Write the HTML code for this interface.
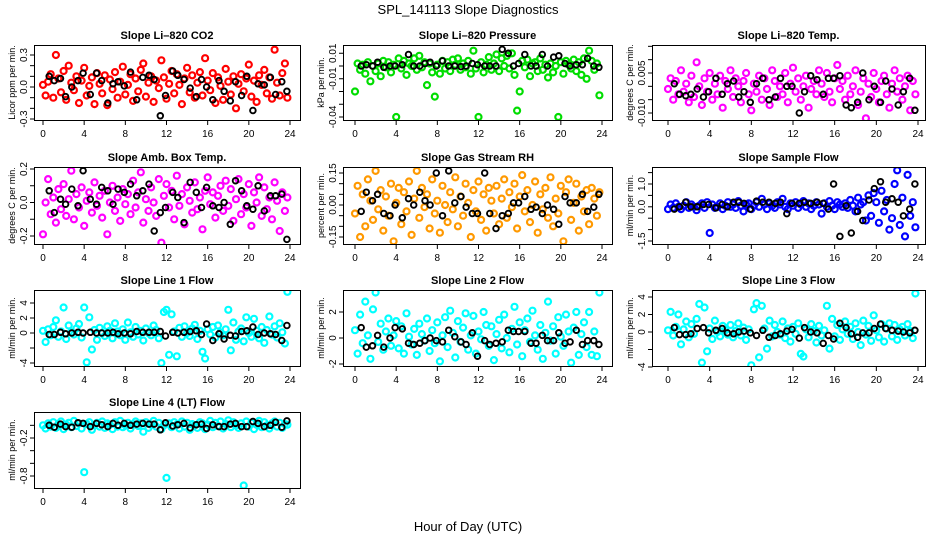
<!DOCTYPE html>
<html><head><meta charset="utf-8"><style>
html,body{margin:0;padding:0;background:#fff;}
svg{display:block;font-family:"Liberation Sans",sans-serif;}
</style></head><body>
<svg id="chart" width="936" height="540" viewBox="0 0 936 540" xmlns="http://www.w3.org/2000/svg">
<text x="468" y="14" text-anchor="middle" font-size="13">SPL_141113  Slope Diagnostics</text>
<text x="468" y="531" text-anchor="middle" font-size="13">Hour of Day (UTC)</text>
</svg>
<script>
const hoursColored = [0,0.25,0.5,0.75,1,1.25,1.5,1.75,2,2.25,2.5,2.75,3,3.25,3.5,3.75,4,4.25,4.5,4.75,5,5.25,5.5,5.75,6,6.25,6.5,6.75,7,7.25,7.5,7.75,8,8.25,8.5,8.75,9,9.25,9.5,9.75,10,10.25,10.5,10.75,11,11.25,11.5,11.75,12,12.25,12.5,12.75,13,13.25,13.5,13.75,14,14.25,14.5,14.75,15,15.25,15.5,15.75,16,16.25,16.5,16.75,17,17.25,17.5,17.75,18,18.25,18.5,18.75,19,19.25,19.5,19.75,20,20.25,20.5,20.75,21,21.25,21.5,21.75,22,22.25,22.5,22.75,23,23.25,23.5,23.75];
const hoursBlack = [0.6,1.1,1.7,2.2,2.8,3.4,3.9,4.6,5.2,5.7,6.3,6.8,7.3,7.9,8.5,9.1,9.7,10.3,10.8,11.4,11.9,12.6,13.1,13.7,14.3,14.9,15.4,15.9,16.5,17.1,17.6,18.2,18.7,19.3,19.8,20.4,20.9,21.5,22.1,22.6,23.2,23.7];
const xTicks = [0,4,8,12,16,20,24];

const co2Colored = [0.02,-0.08,0.05,0.12,-0.1,0.3,0.08,-0.05,0.15,-0.12,0.2,0.04,-0.03,0.1,-0.15,0.06,0.18,-0.08,0.01,0.09,-0.16,0.13,0.03,-0.06,0.11,-0.17,0.07,-0.02,0.14,-0.1,0.05,0.19,-0.07,0.02,0.12,-0.13,0.08,-0.04,0.16,0.22,-0.09,0.04,0.1,-0.14,0.06,-0.01,0.25,0.09,-0.11,0.03,0.15,-0.06,0.12,0.02,-0.16,0.08,0.18,-0.05,0.11,-0.1,0.04,0.14,-0.08,0.27,0.06,-0.03,0.13,-0.15,0.09,0.01,-0.12,0.17,0.05,-0.07,0.1,-0.2,0.03,0.12,-0.04,0.08,0.21,-0.09,0.06,-0.14,0.11,0.02,0.16,-0.06,0.09,-0.11,0.35,0.04,-0.08,0.13,0.22,-0.1];
const co2Black = [0.1,0.06,0.08,-0.09,0.0,0.06,0.13,-0.07,0.13,0.06,-0.15,0.03,0.05,0.01,0.14,-0.12,0.09,0.11,0.07,-0.27,-0.08,0.15,0.11,0.07,-0.01,-0.09,0.07,0.0,-0.12,0.06,-0.04,-0.13,0.05,-0.08,0.1,-0.22,0.03,0.02,0.09,-0.07,0.05,-0.04];

const pressureColored = [-0.02,0.002,-0.003,0.001,-0.006,0.003,-0.012,0.0,-0.004,0.002,-0.008,0.004,-0.001,0.003,-0.005,0.001,-0.04,0.006,-0.002,0.004,-0.007,0.002,0.0,0.006,-0.003,0.008,-0.001,0.003,-0.015,0.002,-0.005,-0.024,0.001,-0.006,0.004,-0.002,0.003,-0.004,0.005,0.001,0.006,-0.003,0.002,-0.001,0.004,-0.006,0.012,-0.002,-0.04,0.003,-0.005,0.001,0.007,-0.003,0.002,0.009,-0.004,0.006,0.0,0.008,-0.002,0.01,-0.007,-0.035,-0.02,0.004,-0.001,0.005,-0.008,0.002,0.003,-0.004,0.006,-0.003,0.001,-0.009,0.002,-0.005,0.0,-0.04,0.003,-0.006,0.004,0.001,-0.002,0.005,-0.004,0.003,-0.007,0.006,-0.01,0.012,0.004,-0.003,0.002,-0.023];
const pressureBlack = [0.0,0.001,0.0,0.003,-0.001,0.0,0.0,0.001,0.009,0.0,0.0,0.002,0.003,0.0,0.004,0.0,0.0,-0.0005,0.0,0.002,0.001,0.0,0.0,0.0,0.013,0.01,0.0,0.002,0.009,0.0,0.0,0.009,0.0,0.007,0.008,0.002,0.0,0.001,0.001,0.006,0.0,-0.001];

const tempMilliColored = [-1,3,-5,2,-3,6,-2,1,-6,4,-4,9,0,-7,3,-2,5,-5,1,-3,4,-8,2,-1,6,-4,3,0,-6,2,5,-3,-9,1,-2,4,-5,3,-1,-7,6,2,-4,0,-3,5,-6,1,7,-2,3,-5,0,4,-8,-1,2,-3,6,1,-4,5,-2,-6,3,8,-1,2,-5,4,-3,0,6,-7,-2,3,-12,1,-4,5,-1,-6,2,4,-3,-8,1,6,-2,3,-5,0,4,-9,2,-3];
const tempMilliBlack = [1,-3,-3.5,-3,-1,-4,-2,3,-3,1,2,-4,-2,-6,1,3,-5,-4,3,0,0,-10,-2,4,2.5,-3,3,3,4,-7,-8,-6,5,-5,0,-6,2,-1,-7,-2,3,-9];

const ambColored = [-0.19,0.0,0.14,-0.07,0.03,-0.12,0.08,-0.04,0.11,-0.08,0.02,0.19,-0.1,0.05,-0.03,0.09,-0.14,0.01,0.06,-0.06,0.12,-0.02,0.04,-0.09,0.07,-0.19,0.0,0.1,-0.05,0.03,-0.11,0.08,-0.01,0.05,-0.07,0.13,-0.03,0.06,0.18,-0.12,0.02,-0.05,0.09,0.0,-0.08,0.14,-0.24,0.04,0.11,-0.03,0.07,-0.1,0.16,-0.02,0.05,-0.13,0.09,0.01,-0.06,0.12,-0.04,0.03,-0.16,0.07,0.15,-0.01,0.06,-0.09,0.04,0.1,-0.05,0.13,-0.02,0.08,-0.11,0.02,0.14,-0.07,0.05,-0.03,0.11,-0.14,0.06,0.0,0.15,-0.08,0.09,-0.04,0.03,-0.1,0.12,0.01,-0.17,0.06,-0.05,0.03];
const ambBlack = [0.07,-0.06,0.02,-0.01,0.08,-0.02,0.19,0.02,-0.01,0.09,0.07,-0.01,0.08,0.06,0.11,0.04,0.07,0.11,-0.17,-0.06,-0.03,0.06,0.03,-0.12,0.12,0.06,-0.03,0.09,-0.02,-0.03,0.0,-0.13,0.13,0.07,-0.02,-0.04,0.1,-0.05,0.04,0.04,0.05,-0.22];

const rhColored = [-0.04,0.09,-0.15,0.05,-0.1,0.12,0.02,-0.07,0.16,-0.02,0.07,-0.12,0.04,-0.05,0.1,-0.17,0.01,0.08,-0.09,0.06,-0.03,0.11,-0.14,0.03,0.16,-0.06,0.08,-0.01,0.05,-0.11,0.12,-0.04,0.02,-0.13,0.09,0.0,-0.08,0.06,-0.02,0.13,-0.1,0.04,-0.05,0.1,0.01,-0.15,0.07,-0.03,0.11,-0.07,0.05,-0.12,0.08,0.02,-0.04,0.09,-0.09,0.03,0.12,-0.06,0.06,-0.01,0.1,-0.11,0.04,0.14,-0.03,0.07,-0.08,0.0,0.11,-0.13,0.05,-0.02,0.08,-0.06,0.13,-0.1,0.03,-0.04,0.09,-0.17,0.06,0.12,-0.07,0.01,0.1,-0.12,0.04,-0.03,0.07,-0.09,0.08,0.03,-0.05,0.06];
const rhBlack = [-0.03,0.06,0.02,0.05,-0.04,-0.05,0.0,-0.06,0.03,0.0,0.06,0.02,0.0,0.15,-0.05,0.16,0.01,0.04,-0.01,-0.04,-0.04,0.15,-0.04,-0.11,-0.05,-0.04,0.01,0.01,0.04,-0.02,-0.01,-0.04,0.0,-0.02,-0.09,0.04,0.01,0.01,0.05,-0.03,-0.01,0.05];

const sampleColored = [-0.1,0.1,-0.05,0.15,0.0,-0.1,0.05,0.2,-0.05,0.1,0.0,-0.15,0.05,0.15,-0.05,0.2,-1.15,0.1,-0.05,0.0,0.15,-0.1,0.05,0.2,0.0,0.1,-0.05,0.25,0.05,-0.2,0.1,0.15,-0.1,0.05,0.2,0.0,0.35,0.1,-0.1,0.15,0.05,-0.05,0.2,0.1,0.35,0.0,-0.1,0.15,0.05,0.2,-0.05,0.1,0.25,0.0,0.15,-0.1,0.05,0.2,0.1,-0.3,0.15,0.0,0.25,0.05,-0.1,0.2,0.1,0.0,0.15,-0.05,0.3,0.05,-0.2,0.4,0.1,0.2,-0.6,0.5,-0.4,0.6,0.2,-0.7,0.7,-0.2,0.3,-1.0,-0.5,1.0,1.6,-0.8,0.4,-1.3,1.4,-0.4,0.2,-0.9];
const sampleBlack = [-0.1,0.0,0.2,0.0,0.0,0.1,0.1,-0.05,0.1,0.0,0.2,0.2,0.15,-0.1,0.25,0.2,0.2,0.15,0.2,-0.3,0.15,0.15,0.2,0.15,0.2,0.15,-0.1,1.0,-1.3,0.05,-1.15,-0.2,-0.6,0.3,0.8,1.1,0.2,0.35,0.2,-0.4,-0.1,1.0];

const line1Colored = [0.3,-1.2,0.5,-0.3,0.8,1.7,-0.5,0.2,3.4,-0.8,1.0,0.1,-0.2,0.6,1.2,-0.6,3.4,-3.9,2.1,-2.2,0.4,-0.9,0.7,0.0,-0.4,0.9,0.3,-0.7,1.3,0.2,-0.3,0.5,-0.9,1.4,0.1,-0.5,0.8,-0.2,0.3,-1.0,0.6,0.0,-0.3,1.0,0.4,-0.7,-4.0,2.8,3.1,-2.9,2.5,0.2,-3.1,0.7,-0.5,0.9,0.0,-0.4,0.6,1.1,-0.8,0.3,-2.5,-3.4,0.5,-0.2,0.8,-0.6,1.0,0.1,-0.3,0.5,3.1,-2.3,1.4,-0.9,0.2,0.6,-1.1,2.1,0.0,-0.5,1.9,0.3,-0.7,0.8,-1.3,0.4,2.2,-0.2,0.9,-0.6,1.3,0.1,-1.4,5.5];
const line1Black = [-0.2,-0.2,0.1,-0.1,0.0,0.1,0.0,0.1,0.0,0.0,0.0,0.1,-0.1,0.0,-0.1,0.2,0.1,0.1,0.1,0.2,-0.4,0.1,0.0,0.1,0.2,0.3,-0.2,1.2,-1.0,-0.1,-0.8,-0.3,-0.4,0.2,0.3,0.8,-0.2,0.0,-0.1,-0.2,-1.0,1.0];

const line2Colored = [0.6,-1.2,1.8,-0.4,2.8,0.2,-1.6,2.2,3.5,-0.3,1.1,-0.9,0.5,1.5,-0.6,0.2,1.3,-0.8,0.9,-1.2,1.9,0.1,-0.5,0.7,-1.3,1.1,0.3,-0.2,1.5,-1.0,0.6,-0.4,1.2,-1.8,0.2,1.6,-0.7,2.1,0.4,-1.5,1.3,-0.3,0.8,1.9,-0.9,0.2,1.7,-1.2,0.5,-0.1,2.0,1.0,-0.6,0.9,-1.7,0.3,1.4,-0.8,1.8,0.0,-1.1,0.7,2.4,-0.5,1.2,-1.4,0.6,1.5,-0.3,2.1,0.2,-0.9,1.0,-1.6,0.4,2.8,-0.2,0.9,-1.2,1.6,0.1,-0.6,1.8,0.5,-1.9,0.8,2.0,-1.3,0.3,1.2,-0.7,2.0,-1.3,0.5,-1.4,3.5];
const line2Black = [0.8,-0.7,-0.6,0.2,-0.7,0.0,0.8,0.7,-0.4,-0.5,-0.4,-0.2,0.0,-0.2,-0.3,0.6,0.1,-0.3,-0.5,0.4,-1.4,-0.2,-0.5,-0.4,-0.3,0.6,0.5,0.5,0.5,-0.4,-0.4,0.2,-0.2,-0.2,0.4,-0.4,-0.3,0.6,-0.5,-0.2,-0.2,-0.5];

const line3Colored = [0.2,2.3,-0.4,0.6,2.0,-1.4,0.3,1.2,-0.6,0.9,-0.2,1.5,3.2,-3.5,2.8,-2.2,0.4,-0.8,1.3,0.0,-0.5,0.7,0.2,-0.3,0.8,-0.6,0.1,1.0,-0.4,0.5,-0.9,0.3,-3.8,2.6,3.3,-2.9,3.0,0.4,-1.9,1.3,-0.5,0.8,0.0,-0.3,1.2,-0.7,0.4,-1.1,0.6,-0.2,1.0,-2.5,-2.8,0.3,-0.6,0.9,0.1,-1.2,0.7,-0.4,0.2,3.0,-1.9,1.5,-0.5,0.8,-0.9,0.3,1.2,-0.2,0.6,-0.8,1.0,0.0,-1.5,1.3,-0.3,0.7,-1.0,1.9,0.2,-0.6,0.9,-1.1,0.4,1.0,-0.5,0.8,-0.9,0.3,0.6,-0.4,0.9,0.1,-0.7,4.4];
const line3Black = [0.5,-0.3,-0.3,-0.2,0.4,0.5,-0.1,0.2,0.4,-0.1,-0.2,0.0,0.1,-0.1,-0.4,0.2,-0.6,-0.4,-0.2,0.1,0.3,-0.7,0.5,0.0,-0.1,-1.3,-0.4,-0.8,1.0,0.5,-0.2,-0.6,-0.1,-0.1,0.4,0.9,0.4,0.2,0.1,0.0,-0.1,0.2];

const line4Colored = [0.0,-0.05,0.03,-0.02,0.05,-0.04,0.02,0.06,-0.06,0.01,0.04,-0.03,0.07,-0.01,0.03,-0.05,-0.74,0.02,0.05,-0.07,0.0,0.04,-0.02,0.06,-0.04,0.03,0.01,-0.06,0.05,-0.02,0.07,-0.03,0.0,0.04,-0.05,0.02,0.06,-0.01,0.03,-0.1,0.05,-0.04,0.01,0.07,-0.02,0.04,-0.06,0.0,-0.83,0.03,-0.03,0.05,0.01,-0.05,0.06,-0.02,0.04,-0.07,0.02,0.0,-0.04,0.05,0.03,-0.06,0.01,0.07,-0.03,0.04,-0.01,0.06,-0.05,0.02,0.08,-0.03,0.05,0.0,-0.04,0.03,-0.95,0.06,-0.02,0.04,-0.06,0.01,0.07,-0.03,0.05,0.0,-0.05,0.03,0.06,-0.02,0.04,-0.04,0.02,0.01];
const line4Black = [0.0,-0.03,0.02,-0.02,-0.03,0.04,0.03,-0.02,0.03,0.01,-0.02,0.03,0.0,0.03,0.0,0.02,0.03,0.02,0.02,-0.07,0.04,-0.01,0.01,0.03,-0.04,0.01,0.02,-0.05,0.01,-0.02,-0.02,0.02,0.03,-0.02,-0.02,0.06,0.03,-0.02,0.0,0.05,-0.03,0.07];

const co2Ticks=[-0.3,-0.2,-0.1,0,0.1,0.2,0.3], co2Labels=[[-0.3,"-0.3"],[0,"0.0"],[0.3,"0.3"]];
const pressTicks=[-0.04,-0.03,-0.02,-0.01,0,0.01], pressLabels=[[-0.04,"-0.04"],[-0.01,"-0.01"],[0.01,"0.01"]];
const tempTicks=[-10,-5,0,5,10,15], tempLabels=[[-10,"-0.010"],[5,"0.005"]];
const ambTicks=[-0.2,-0.1,0,0.1,0.2], ambLabels=[[-0.2,"-0.2"],[0,"0.0"],[0.2,"0.2"]];
const rhTicks=[-0.15,-0.1,-0.05,0,0.05,0.1,0.15], rhLabels=[[-0.15,"-0.15"],[0,"0.00"],[0.15,"0.15"]];
const sampleTicks=[-1.5,-1,-0.5,0,0.5,1,1.5], sampleLabels=[[-1.5,"-1.5"],[0,"0.0"],[1,"1.0"]];
const l1Ticks=[-4,-2,0,2,4], l1Labels=[[-4,"-4"],[0,"0"],[2,"2"],[4,"4"]];
const l2Ticks=[-2,0,2], l2Labels=[[-2,"-2"],[0,"0"],[2,"2"]];
const l3Ticks=[-4,-2,0,2,4], l3Labels=[[-4,"-4"],[0,"0"],[2,"2"],[4,"4"]];
const l4Ticks=[0,-0.2,-0.4,-0.6,-0.8], l4Labels=[[-0.2,"-0.2"],[-0.8,"-0.8"]];

const NS="http://www.w3.org/2000/svg";
const svg=document.getElementById('chart');
function mk(tag,attrs,parent){const e=document.createElementNS(NS,tag);for(const k in attrs)e.setAttribute(k,attrs[k]);(parent||svg).appendChild(e);return e;}

const cols=[{L:34,R:300,x0:43,x24:290},{L:343,R:612,x0:355,x24:602},{L:652,R:925,x0:668,x24:918}];
const rows=[{T:45,B:120},{T:167,B:244},{T:290,B:366},{T:412,B:488}];

const panels=[
 {name:'co2',title:'Slope Li\u2013820 CO2',yt:'Licor ppm per min.',c:0,r:0,color:'#ff0000',cv:co2Colored,bv:co2Black,cal:[0.3,55,-0.3,119],ticks:co2Ticks,labels:co2Labels},
 {name:'pressure',title:'Slope Li\u2013820 Pressure',yt:'kPa per min.',c:1,r:0,color:'#00dd00',cv:pressureColored,bv:pressureBlack,cal:[0,66,-0.04,117],ticks:pressTicks,labels:pressLabels},
 {name:'temp',title:'Slope Li\u2013820 Temp.',yt:'degrees C per min.',c:2,r:0,color:'#ff00ff',cv:tempMilliColored,bv:tempMilliBlack,cal:[5,73,-10,113],ticks:tempTicks,labels:tempLabels},
 {name:'amb-box',title:'Slope Amb. Box Temp.',yt:'degrees C per min.',c:0,r:1,color:'#ff00ff',cv:ambColored,bv:ambBlack,cal:[0.2,169,-0.2,236],ticks:ambTicks,labels:ambLabels},
 {name:'gas-rh',title:'Slope Gas Stream RH',yt:'percent per min.',c:1,r:1,color:'#ff9900',cv:rhColored,bv:rhBlack,cal:[0.15,173,-0.15,237],ticks:rhTicks,labels:rhLabels},
 {name:'sample-flow',title:'Slope Sample Flow',yt:'ml/min per min.',c:2,r:1,color:'#0000ff',cv:sampleColored,bv:sampleBlack,cal:[1,184,-1.5,241],ticks:sampleTicks,labels:sampleLabels},
 {name:'line1',title:'Slope Line 1 Flow',yt:'ml/min per min.',c:0,r:2,color:'#00ffff',cv:line1Colored,bv:line1Black,cal:[4,303,-4,363],ticks:l1Ticks,labels:l1Labels},
 {name:'line2',title:'Slope Line 2 Flow',yt:'ml/min per min.',c:1,r:2,color:'#00ffff',cv:line2Colored,bv:line2Black,cal:[2,312,-2,364],ticks:l2Ticks,labels:l2Labels},
 {name:'line3',title:'Slope Line 3 Flow',yt:'ml/min per min.',c:2,r:2,color:'#00ffff',cv:line3Colored,bv:line3Black,cal:[4,297,-4,367],ticks:l3Ticks,labels:l3Labels},
 {name:'line4',title:'Slope Line 4 (LT) Flow',yt:'ml/min per min.',c:0,r:3,color:'#00ffff',cv:line4Colored,bv:line4Black,cal:[-0.2,438,-0.8,476],ticks:l4Ticks,labels:l4Labels}
];

panels.forEach(p=>{
 const col=cols[p.c], row=rows[p.r];
 const g=mk('g',{});
 
 
 const xs=h=>col.x0+(h/24)*(col.x24-col.x0);
 const ys=v=>p.cal[1]+(v-p.cal[0])*(p.cal[3]-p.cal[1])/(p.cal[2]-p.cal[0]);
 const cx=(col.L+col.R)/2;
 const t=mk('text',{x:cx,y:row.T-6,'text-anchor':'middle','font-size':'11','font-weight':'bold'},g);
 t.textContent=p.title;
 
 
 const cid='clip-'+p.name;
 const cp=mk('clipPath',{id:cid},g); mk('rect',{x:col.L,y:row.T,width:col.R-col.L,height:row.B-row.T},cp);
 const pg=mk('g',{'clip-path':'url(#'+cid+')'},g);
 p.cv.forEach((v,i)=>{
  if(hoursColored[i]===undefined) return;
  const c=mk('circle',{cx:xs(hoursColored[i]).toFixed(1),cy:ys(v).toFixed(1),r:3,fill:'none',stroke:p.color,'stroke-width':2.2},pg);
  
  
 });
 p.bv.forEach((v,i)=>{
  if(hoursBlack[i]===undefined) return;
  const c=mk('circle',{cx:xs(hoursBlack[i]).toFixed(1),cy:ys(v).toFixed(1),r:2.8,fill:'none',stroke:'#000','stroke-width':1.9},pg);
  
  
 });
 const box=mk('rect',{x:col.L+0.5,y:row.T+0.5,width:col.R-col.L,height:row.B-row.T,fill:'none',stroke:'#000','stroke-width':1},g);
 
 
 const xa=mk('g',{},g);
 
 
 xTicks.forEach(h=>{
  const x=xs(h);
  mk('line',{x1:x,x2:x,y1:row.B+0.5,y2:row.B+5,stroke:'#000'},xa);
  const l=mk('text',{x:x,y:row.B+17,'text-anchor':'middle','font-size':'10'},xa);
  l.textContent=String(h);
 });
 const ya=mk('g',{},g);
 
 
 p.ticks.forEach(v=>{
  const y=ys(v);
  if(y<row.T-1||y>row.B+1) return;
  mk('line',{x1:col.L-4,x2:col.L+0.5,y1:y,y2:y,stroke:'#000'},ya);
 });
 p.labels.forEach(([v,s])=>{
  const y=ys(v);
  const l=mk('text',{x:0,y:0,'text-anchor':'middle','font-size':'10',transform:`translate(${col.L-7},${y}) rotate(-90)`},ya);
  l.textContent=s;
 });
 const yt=mk('text',{x:0,y:0,'text-anchor':'middle','font-size':'9',transform:`translate(${col.L-19},${(row.T+row.B)/2}) rotate(-90)`},g);
 yt.textContent=p.yt;
 
 
});
</script>
</body></html>
